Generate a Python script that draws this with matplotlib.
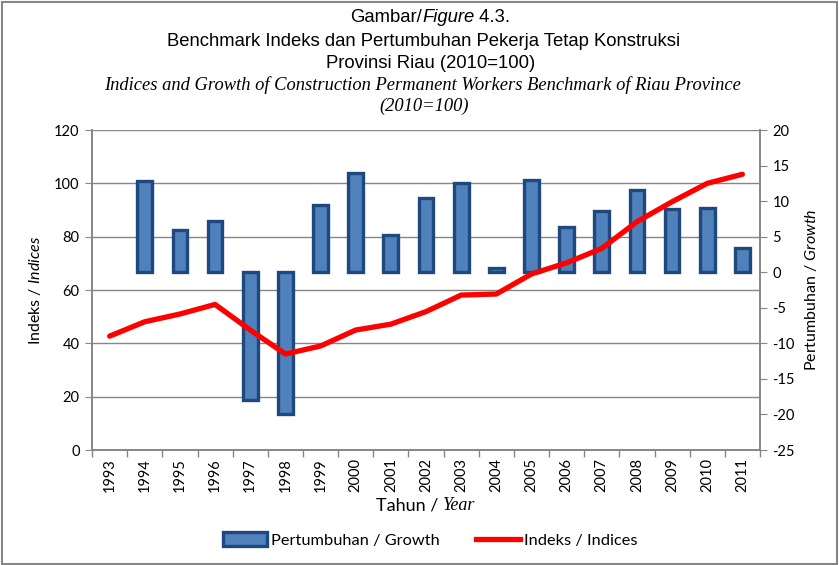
import matplotlib
matplotlib.use("Agg")
import matplotlib.pyplot as plt
import numpy as np
from matplotlib.patches import Patch, Rectangle
from matplotlib.lines import Line2D
from matplotlib.offsetbox import TextArea, HPacker, AnchoredOffsetbox

# Data
years = [str(y) for y in range(1993, 2012)]
growth = [np.nan, 12.8, 6.0, 7.2, -17.9, -20.0, 9.4, 14.0, 5.3, 10.5,
          12.5, 0.55, 12.9, 6.4, 8.6, 11.5, 8.9, 9.1, 3.4]
indices = [42.7, 48.1, 51.0, 54.6, 45.0, 36.0, 39.0, 45.0, 47.2, 51.9,
           58.1, 58.5, 66.0, 70.2, 75.6, 85.6, 93.1, 100.0, 103.4]

left_ticks = [0, 20, 40, 60, 80, 100, 120]
right_ticks = [-25, -20, -15, -10, -5, 0, 5, 10, 15, 20]

plt.rcParams['font.family'] = ['Lato', 'DejaVu Sans']
plt.rcParams['mathtext.fontset'] = 'custom'
plt.rcParams['mathtext.rm'] = 'Lato'
plt.rcParams['mathtext.it'] = 'Lato:italic'
plt.rcParams['axes.unicode_minus'] = False

GRAY = '#868686'
BAR_FACE = '#4F81BD'
BAR_EDGE = '#1F497D'

fig = plt.figure(figsize=(8.39, 5.65), dpi=100)
ax = fig.add_axes([0.1097, 0.2035, 0.7961, 0.5664])
ax_bar = ax.twinx()
ax_line = ax.twinx()

x = np.arange(len(years))

# gridlines on the index axis (bottom layer)
ax.set_ylim(0, 120)
ax.set_yticks(left_ticks)
ax.yaxis.grid(True, color=GRAY, linewidth=1)
ax.set_axisbelow(True)

# bars on the growth axis
ax_bar.bar(x, growth, width=0.42, color=BAR_FACE, edgecolor=BAR_EDGE,
           linewidth=2.4, zorder=3)
ax_bar.set_ylim(-25, 20)
ax_bar.set_yticks(right_ticks)

# index line on top
ax_line.plot(x, indices, color='#FF0000', linewidth=3.8, solid_capstyle='round')
ax_line.set_ylim(0, 120)
ax_line.axis('off')

for a in (ax, ax_bar, ax_line):
    a.set_xlim(-0.5, len(years) - 0.5)

ax.set_xticks(x)
ax.set_xticklabels(years, rotation=90, fontsize=10.5)
ax.set_xticks(np.arange(-0.5, len(years)), minor=True)
ax.tick_params(axis='x', which='major', length=0, pad=6)
ax.tick_params(axis='x', which='minor', length=5, color=GRAY, width=1)
ax.tick_params(axis='y', labelsize=10.5, length=5, color=GRAY, pad=4)
ax_bar.tick_params(axis='y', labelsize=10.5, length=5, color=GRAY, pad=4)

for a in (ax, ax_bar):
    a.spines['top'].set_visible(False)
    for side in ('left', 'right', 'bottom'):
        a.spines[side].set_color(GRAY)
        a.spines[side].set_linewidth(1.2)

ax.set_ylabel(r'Indeks / $\mathit{Indices}$', fontsize=11.5, labelpad=8)
ax_bar.set_ylabel(r'Pertumbuhan / $\mathit{Growth}$', fontsize=11.5, labelpad=6)


def mixed_line(parts, xy, fontsize):
    boxes = [TextArea(t, textprops=dict(fontsize=fontsize, **props))
             for t, props in parts]
    pack = HPacker(children=boxes, align='baseline', pad=0, sep=0)
    anch = AnchoredOffsetbox(loc='center', child=pack, frameon=False, pad=0,
                             bbox_to_anchor=xy, bbox_transform=fig.transFigure,
                             borderpad=0)
    fig.add_artist(anch)


sans = dict(family='Liberation Sans')
sans_it = dict(family='Liberation Sans', style='italic')
serif_it = dict(family='Liberation Serif', style='italic')

mixed_line([('Gambar/', sans), ('Figure', sans_it), (' 4.3.', sans)],
           (0.513, 1 - 18 / 565), 13.3)
fig.text(0.505, 1 - 42 / 565,
         'Benchmark Indeks dan Pertumbuhan Pekerja Tetap Konstruksi',
         ha='center', va='center', fontsize=13.3, **sans)
fig.text(0.513, 1 - 63 / 565, 'Provinsi Riau (2010=100)',
         ha='center', va='center', fontsize=13.3, **sans)
fig.text(0.503, 1 - 85 / 565,
         'Indices and Growth of Construction Permanent Workers Benchmark of Riau Province',
         ha='center', va='center', fontsize=13.3, **serif_it)
fig.text(0.505, 1 - 106 / 565, '(2010=100)',
         ha='center', va='center', fontsize=13.3, **serif_it)

mixed_line([('Tahun / ', dict(family='Lato')), ('Year', serif_it)],
           (0.507, 1 - 506 / 565), 13)

handles = [Patch(facecolor=BAR_FACE, edgecolor=BAR_EDGE, linewidth=2.4),
           Line2D([0], [0], color='#FF0000', linewidth=3.8)]
fig.legend(handles, ['Pertumbuhan / Growth', 'Indeks / Indices'],
           loc='center', bbox_to_anchor=(0.513, 1 - 540 / 565), ncol=2,
           frameon=False, fontsize=11.8, handlelength=2.7, handleheight=0.9,
           handletextpad=0.25, columnspacing=2.2)

fig.add_artist(Rectangle((0.002, 0.002), 0.996, 0.994, transform=fig.transFigure,
                         fill=False, edgecolor=GRAY, linewidth=1.5))

fig.savefig('out.png', dpi=100)
